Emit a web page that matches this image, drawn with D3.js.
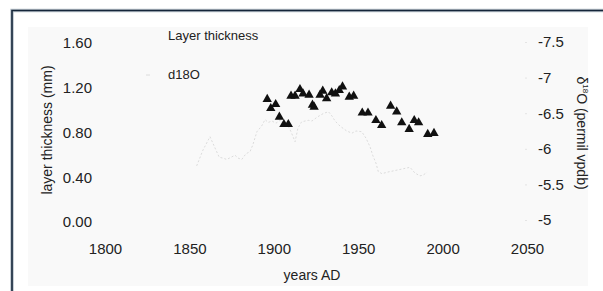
<!DOCTYPE html>
<html>
<head>
<meta charset="utf-8">
<script src="https://cdn.jsdelivr.net/npm/d3@7"></script>
<style>
  html, body { margin: 0; padding: 0; background: #fff; }
  svg { display: block; font-family: "Liberation Sans", Arial, sans-serif; }
</style>
</head>
<body>
<svg></svg>
<script>
const w = 603
const h = 291

// layer thickness (triangles)
const thickYears = [1896.1, 1898.2, 1901.1, 1903.3, 1906.0, 1908.6, 1910.2, 1912.6, 1915.5, 1917.3,
    1920.9, 1922.9, 1923.9, 1927.4, 1929.0, 1931.3, 1934.3, 1936.5, 1938.8, 1940.7,
    1944.7, 1947.3, 1952.4, 1955.8, 1960.5, 1963.9, 1969.2, 1972.8, 1975.8, 1980.2,
    1983.2, 1985.8, 1991.2, 1994.9]
const thickValues = [1.106, 1.025, 1.061, 0.948, 0.882, 0.882, 1.135, 1.135, 1.195, 1.156,
    1.144, 1.055, 1.037, 1.144, 1.180, 1.113, 1.165, 1.156, 1.186, 1.218,
    1.126, 1.135, 0.985, 0.985, 0.918, 0.873, 1.046, 0.995, 0.897, 0.838,
    0.918, 0.898, 0.793, 0.802]

// d18O (faint line)
const isoYears = [1854.3, 1858.0, 1862.2, 1865.2, 1867.7, 1869.9, 1872.1, 1874.6, 1877.0, 1878.8,
    1881.0, 1883.5, 1885.9, 1887.5, 1890.0, 1892.8, 1894.8, 1896.7, 1898.9, 1901.3,
    1903.7, 1907.6, 1910.2, 1912.6, 1914.3, 1916.5, 1918.5, 1920.4, 1922.6, 1925.4,
    1927.4, 1929.7, 1932.4, 1934.5, 1936.3, 1939.2, 1943.2, 1946.3, 1948.7, 1952.1,
    1954.6, 1957.0, 1958.6, 1960.5, 1961.9, 1964.1, 1966.9, 1980.7, 1983.6, 1986.6,
    1988.4, 1990.8]
const isoValues = [-5.76, -5.98, -6.17, -6.01, -5.88, -5.87, -5.85, -5.88, -5.91, -5.87,
    -5.85, -5.93, -5.96, -6.05, -6.24, -6.32, -6.41, -6.37, -6.39, -6.36,
    -6.40, -6.36, -6.24, -6.10, -6.29, -6.38, -6.39, -6.40, -6.39, -6.44,
    -6.47, -6.50, -6.52, -6.46, -6.39, -6.32, -6.25, -6.22, -6.25, -6.24,
    -6.15, -6.03, -5.91, -5.80, -5.68, -5.65, -5.67, -5.74, -5.66, -5.62,
    -5.63, -5.67]

const xTicks = [1800, 1850, 1900, 1950, 2000, 2050]
const leftTicks = [0, 0.4, 0.8, 1.2, 1.6]
const rightTicks = [-7.5, -7, -6.5, -6, -5.5, -5]
const legendLabels = ['Layer  thickness', 'd18O']

const svg = d3.select('svg').attr('width', w).attr('height', h)

const x = d3.scaleLinear().domain([1800, 2050]).range([105, 527])
const yLeft = d3.scaleLinear().domain([0, 1.6]).range([222, 43])
const yRight = d3.scaleLinear().domain([-7.5, -5]).range([42, 220])

// panel + frame
svg.append('rect').attr('x', 28).attr('y', 27).attr('width', 560).attr('height', 259)
    .attr('fill', '#f9f9f9')
svg.append('path').attr('d', `M12,${h} V10.5 H${w}`)
    .attr('fill', 'none').attr('stroke', '#b9c2ca').attr('stroke-width', 3.5)
svg.append('path').attr('d', `M12,${h} V10.5 H${w}`)
    .attr('fill', 'none').attr('stroke', '#15263a').attr('stroke-width', 1.6)

// x axis labels
const xAxis = d3.axisBottom(x).tickValues(xTicks).tickSize(0).tickFormat(d3.format('d'))
svg.append('g').attr('transform', 'translate(0,240)').call(xAxis)
    .call(g => g.select('.domain').remove())
    .selectAll('text').attr('font-size', 15).attr('fill', '#222').attr('font-family', 'Liberation Sans')

// left axis labels
const leftAxis = d3.axisLeft(yLeft).tickValues(leftTicks).tickSize(0).tickPadding(0).tickFormat(d3.format('.2f'))
svg.append('g').attr('transform', 'translate(92,0)').call(leftAxis)
    .call(g => g.select('.domain').remove())
    .selectAll('text').attr('font-size', 15).attr('fill', '#222').attr('font-family', 'Liberation Sans')

// right axis labels, with faint tick remnants
const rightAxis = d3.axisRight(yRight).tickValues(rightTicks).tickSize(0).tickPadding(12).tickFormat(d => d3.format('')(d).replace('\u2212', '-'))
svg.append('g').attr('transform', 'translate(526,0)').call(rightAxis)
    .call(g => g.select('.domain').remove())
    .call(g => g.selectAll('.tick line').attr('x1', -1).attr('x2', 1).attr('stroke', '#e4e4e4'))
    .selectAll('text').attr('font-size', 15).attr('fill', '#222').attr('font-family', 'Liberation Sans')

// axis titles
svg.append('text').attr('transform', 'translate(52,130) rotate(-90)')
    .attr('text-anchor', 'middle').attr('font-size', 14).attr('fill', '#222')
    .text('layer thickness (mm)')
svg.append('text').attr('x', 312).attr('y', 280)
    .attr('text-anchor', 'middle').attr('font-size', 14).attr('fill', '#222')
    .text('years AD')
const rt = svg.append('text').attr('transform', 'translate(577,133) rotate(90)')
    .attr('text-anchor', 'middle').attr('font-size', 14).attr('fill', '#222')
rt.append('tspan').text('\u03b4')
rt.append('tspan').attr('font-size', 8).attr('dy', -6).text('18')
rt.append('tspan').attr('dy', 6).text('O (permil vpdb)')

// legend
svg.selectAll('.legend')
    .data(legendLabels)
    .enter()
    .append('text')
    .attr('class', 'legend')
    .attr('x', 168)
    .attr('y', (d, i) => 40 + i * 39)
    .attr('font-size', 13)
    .attr('fill', '#222')
    .text(d => d)
svg.append('line').attr('x1', 146).attr('x2', 150).attr('y1', 75).attr('y2', 75)
    .attr('stroke', '#dcdcdc').attr('stroke-width', 1)

// d18O line (very faint)
const isoData = isoYears.map((yr, i) => [yr, isoValues[i]])
const isoLine = d3.line().x(d => x(d[0])).y(d => yRight(d[1]))
svg.append('path').datum(isoData)
    .attr('d', isoLine)
    .attr('fill', 'none')
    .attr('stroke', '#cfcfcf')
    .attr('stroke-width', 0.7)
    .attr('stroke-dasharray', '2,2')

// layer thickness triangles
const thickData = thickYears.map((yr, i) => [yr, thickValues[i]])
svg.append('g').selectAll('path')
    .data(thickData)
    .enter()
    .append('path')
    .attr('d', d3.symbol().type(d3.symbolTriangle).size(38))
    .attr('transform', d => `translate(${x(d[0])},${yLeft(d[1]) + 1})`)
    .attr('fill', '#111')
</script>
</body>
</html>
